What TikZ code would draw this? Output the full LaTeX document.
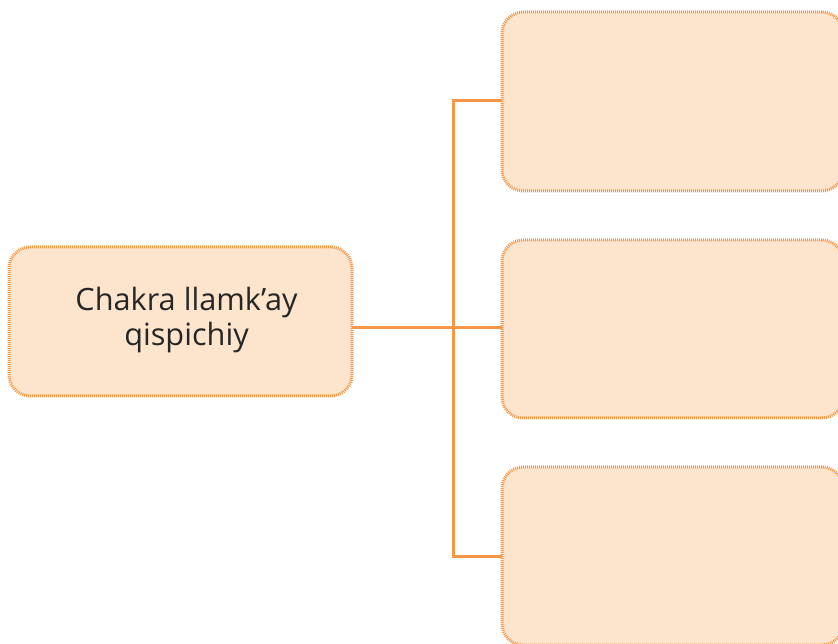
\documentclass[tikz,border=0pt]{standalone}
\usepackage{fontspec}
\setmainfont{Open Sans}
\definecolor{boxfill}{HTML}{FDE5CD}
\definecolor{boxline}{HTML}{F79646}
\definecolor{txt}{HTML}{262626}
\tikzset{
  mapbox/.style={draw=boxline, fill=boxfill, line width=3pt, dash pattern=on 1pt off 1pt,
    rounded corners=21pt, inner sep=0pt, outer sep=0pt},
  lbltext/.style={align=center, text=txt, inner sep=0pt, font=\fontsize{30.7}{35}\selectfont},
  link/.style={draw=boxline, line width=3pt}
}
\begin{document}
\begin{tikzpicture}[x=1pt,y=1pt]
\useasboundingbox (0,0) rectangle (838,643);
% left box: x 9..352, y(img) 247..396
\node[mapbox, minimum width=343pt, minimum height=149pt] (main) at (180.5,{643-321.5}) {};
\node[lbltext] (lbl) at (186.5,{643-320}) {Chakra llamk’ay\\qispichiy};
% right boxes
\node[mapbox, minimum width=341pt, minimum height=179pt] (b1) at (672.5,{643-101.5}) {};
\node[mapbox, minimum width=341pt, minimum height=178pt] (b2) at (672.5,{643-329}) {};
\node[mapbox, minimum width=341pt, minimum height=178pt] (b3) at (672.5,{643-556}) {};
\coordinate (j) at (453,{643-328});
\coordinate (t) at (453,{643-101});
\coordinate (u) at (453,{643-556});
\draw[link] (main.east |- j) -- (b2.west |- j);
\draw[link] (b1.west |- t) -- (t) -- (u) -- (b3.west |- u);
\end{tikzpicture}
\end{document}
